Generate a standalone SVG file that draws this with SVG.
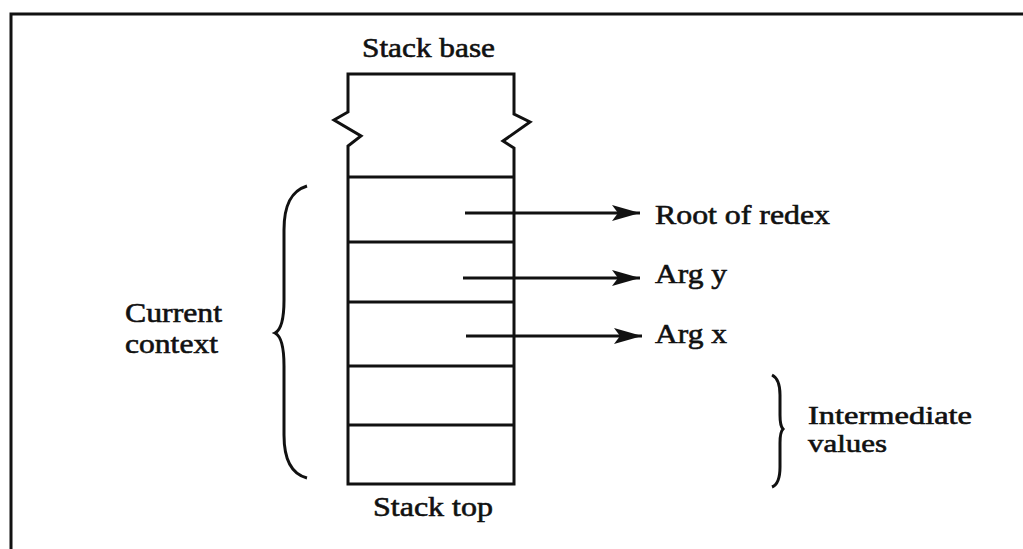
<svg xmlns="http://www.w3.org/2000/svg" width="1023" height="549" viewBox="0 0 1023 549">
<style>
.ln{fill:none;stroke:#111;stroke-width:3;stroke-linejoin:miter}
.t{font-family:"Liberation Serif","Times New Roman",Times,serif;font-size:28px;fill:#111;stroke:#111;stroke-width:0.6}
.s{font-size:25px}
</style>
<defs>
<marker id="ah" markerUnits="userSpaceOnUse" markerWidth="30" markerHeight="20" refX="28" refY="8" orient="auto">
<path d="M0,0 L28,8 L0,16 L6,8 Z" fill="#111"/>
</marker>
</defs>
<rect width="1023" height="549" fill="#fff"/>
<g id="frame"><path class="ln" d="M11,560 L11,14 L1030,14"/></g>
<g id="stack">
<path class="ln" d="M348,484 L348,146 L361,136 L334,120 L348,112 L348,74 L514,74 L514,114 L530,122 L503,141 L514,148 L514,484 Z"/>
<path class="ln" d="M348,177 L514,177 M348,242 L514,242 M348,302 L514,302 M348,366 L514,366 M348,425 L514,425"/>
</g>
<g id="labels">
<text class="t" x="362" y="57" textLength="133" lengthAdjust="spacingAndGlyphs">Stack base</text>
<text class="t" x="373" y="516" textLength="120" lengthAdjust="spacingAndGlyphs">Stack top</text>
<text class="t" x="655" y="224" textLength="175" lengthAdjust="spacingAndGlyphs">Root of redex</text>
<text class="t" x="655" y="283" textLength="72" lengthAdjust="spacingAndGlyphs">Arg y</text>
<text class="t" x="655" y="343" textLength="72" lengthAdjust="spacingAndGlyphs">Arg x</text>
<text class="t" x="125" y="322" textLength="97" lengthAdjust="spacingAndGlyphs">Current</text>
<text class="t" x="125" y="353" textLength="93" lengthAdjust="spacingAndGlyphs">context</text>
<text class="t s" x="808" y="424" textLength="164" lengthAdjust="spacingAndGlyphs">Intermediate</text>
<text class="t s" x="808" y="452" textLength="79" lengthAdjust="spacingAndGlyphs">values</text>
</g>
<g id="braces">
<path class="ln" d="M307,186 C291,191 284,205 284,230 L284,300 C284,320 281,330 275,333 C281,336 284,346 284,366 L284,435 C284,460 291,474 307,478"/>
<path class="ln" d="M772,375 C778,378 780,385 780,395 L780,415 C780,423 781,427 783,429 C781,431 780,435 780,443 L780,467 C780,478 777,485 772,487"/>
</g>
<g id="connectors">
<line class="ln" x1="465" y1="213" x2="640" y2="213" marker-end="url(#ah)"/>
<line class="ln" x1="463" y1="278" x2="640" y2="278" marker-end="url(#ah)"/>
<line class="ln" x1="466" y1="336" x2="642" y2="336" marker-end="url(#ah)"/>
</g>
</svg>
